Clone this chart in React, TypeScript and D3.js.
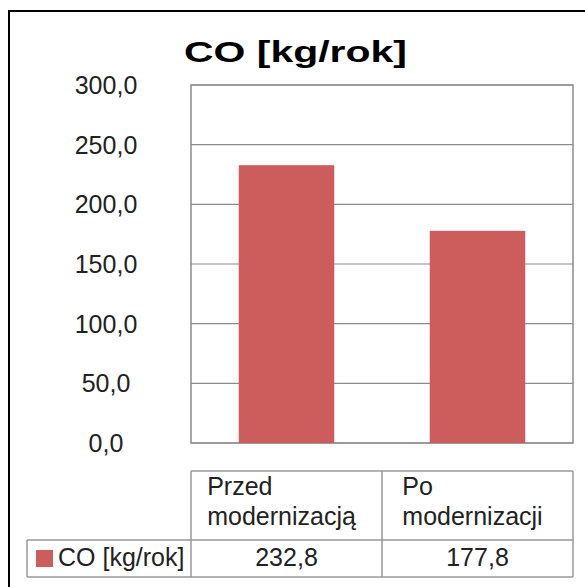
import React, { useEffect, useRef } from 'react';
import { select, scaleLinear, scaleBand } from 'd3';

// chart data
const categories = ['Przed modernizacją', 'Po modernizacji'];
const headerLines = [['Przed', 'modernizacją'], ['Po', 'modernizacji']];
const values = [232.8, 177.8];
const valueLabels = ['232,8', '177,8'];
const seriesName = 'CO [kg/rok]';
const titleText = 'CO [kg/rok]';
const yTicks = [0, 50, 100, 150, 200, 250, 300];
const yTickLabels = ['0,0', '50,0', '100,0', '150,0', '200,0', '250,0', '300,0'];

const FONT = '"Liberation Sans", Arial, sans-serif';
const BAR = '#cd5c5c';
const GRID = '#8c8c8c';

function App() {
  const svgRef = useRef<SVGSVGElement | null>(null);

  useEffect(() => {
    const svg = select(svgRef.current);
    svg.selectAll('*').remove();

    const plot = { left: 191, right: 573, top: 85, bottom: 443 };
    const table = { left: 27, top: 471, mid: 540, bottom: 577 };

    const yScale = scaleLinear().domain([0, 300]).range([plot.bottom, plot.top]);
    const xBars = scaleBand<string>()
      .domain(categories)
      .range([plot.left, plot.right])
      .paddingInner(0.5)
      .paddingOuter(0.25);
    const xCols = scaleBand<string>().domain(categories).range([plot.left, plot.right]);

    // outer frame (runs off the page on right and bottom)
    svg.append('rect')
      .attr('x', 9).attr('y', 11)
      .attr('width', 620).attr('height', 620)
      .attr('fill', 'none').attr('stroke', '#000').attr('stroke-width', 2);

    // title
    svg.append('text')
      .attr('x', 184).attr('y', 62)
      .attr('font-family', FONT).attr('font-size', 30).attr('font-weight', 'bold')
      .attr('textLength', 223).attr('lengthAdjust', 'spacingAndGlyphs')
      .attr('fill', '#000')
      .text(titleText);

    // gridlines
    svg.append('g').selectAll('line')
      .data(yTicks)
      .join('line')
      .attr('x1', plot.left).attr('x2', plot.right)
      .attr('y1', d => yScale(d)).attr('y2', d => yScale(d))
      .attr('stroke', GRID).attr('stroke-width', 1.2);

    // plot box
    svg.append('rect')
      .attr('x', plot.left).attr('y', plot.top)
      .attr('width', plot.right - plot.left).attr('height', plot.bottom - plot.top)
      .attr('fill', 'none').attr('stroke', GRID).attr('stroke-width', 1.5);

    // bars
    svg.append('g').selectAll('rect')
      .data(values)
      .join('rect')
      .attr('x', (d, i) => xBars(categories[i]) as number)
      .attr('width', xBars.bandwidth())
      .attr('y', d => yScale(d))
      .attr('height', d => yScale(0) - yScale(d))
      .attr('fill', BAR);

    // y labels (centred under each other like excel does)
    svg.append('g').selectAll('text')
      .data(yTicks)
      .join('text')
      .attr('x', 106)
      .attr('y', d => yScale(d) + 9)
      .attr('text-anchor', 'middle')
      .attr('font-family', FONT).attr('font-size', 25).attr('fill', '#222')
      .text((d, i) => yTickLabels[i]);

    // data table lines
    const tbl = svg.append('g').attr('stroke', '#999').attr('stroke-width', 1.5);
    tbl.append('line').attr('x1', plot.left).attr('x2', plot.right).attr('y1', table.top).attr('y2', table.top);
    tbl.append('line').attr('x1', table.left).attr('x2', plot.right).attr('y1', table.mid).attr('y2', table.mid);
    tbl.append('line').attr('x1', table.left).attr('x2', plot.right).attr('y1', table.bottom).attr('y2', table.bottom);
    tbl.append('line').attr('x1', table.left).attr('x2', table.left).attr('y1', table.mid).attr('y2', table.bottom);
    tbl.selectAll('line.col')
      .data([...categories.map(c => xCols(c) as number), plot.right])
      .join('line')
      .attr('class', 'col')
      .attr('x1', d => d).attr('x2', d => d)
      .attr('y1', table.top).attr('y2', table.bottom);

    // header labels: left-aligned block, roughly centred in its column
    categories.forEach((c, i) => {
      const g = svg.append('g');
      const texts = g.selectAll('text')
        .data(headerLines[i])
        .join('text')
        .attr('y', (d, j) => 495 + j * 30)
        .attr('font-family', FONT).attr('font-size', 25).attr('fill', '#222')
        .text(d => d);
      let w = 0;
      texts.each(function () {
        w = Math.max(w, (this as SVGTextElement).getComputedTextLength());
      });
      const x0 = (xCols(c) as number) + (xCols.bandwidth() - w) / 2 - 5;
      texts.attr('x', x0);
    });

    // values row
    svg.append('g').selectAll('text')
      .data(valueLabels)
      .join('text')
      .attr('x', (d, i) => (xCols(categories[i]) as number) + xCols.bandwidth() / 2)
      .attr('y', 566)
      .attr('text-anchor', 'middle')
      .attr('font-family', FONT).attr('font-size', 25).attr('fill', '#222')
      .text(d => d);

    // legend key + series name
    svg.append('rect')
      .attr('x', 36).attr('y', 550).attr('width', 17).attr('height', 17)
      .attr('fill', BAR);
    svg.append('text')
      .attr('x', 58).attr('y', 566)
      .attr('font-family', FONT).attr('font-size', 25).attr('fill', '#222')
      .text(seriesName);
  }, []);

  return (
    <svg
      ref={svgRef}
      width={585}
      height={587}
      style={{ position: 'absolute', left: 0, top: 0, background: '#fff' }}
    />
  );
}

export default App;
